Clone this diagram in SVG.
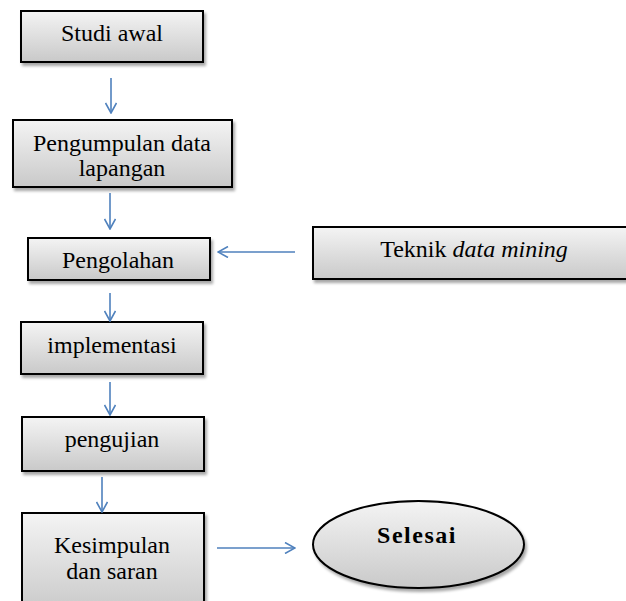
<svg xmlns="http://www.w3.org/2000/svg" width="626" height="601" viewBox="0 0 626 601">
<defs>
<linearGradient id="g" x1="0" y1="0" x2="0" y2="1">
<stop offset="0" stop-color="#f4f4f4"/>
<stop offset="1" stop-color="#c9c9c9"/>
</linearGradient>
<filter id="sh" x="-10%" y="-10%" width="130%" height="140%">
<feGaussianBlur in="SourceAlpha" stdDeviation="1.5"/>
<feOffset dx="2" dy="3" result="b"/>
<feComponentTransfer><feFuncA type="linear" slope="0.35"/></feComponentTransfer>
<feMerge><feMergeNode/><feMergeNode in="SourceGraphic"/></feMerge>
</filter>
<marker id="ah" markerWidth="12" markerHeight="12" viewBox="0 0 12 12" refX="11" refY="6" orient="auto" markerUnits="userSpaceOnUse">
<path d="M1,0.5 L11,6 L1,11.5" fill="none" stroke="#4f81bd" stroke-width="1.6"/>
</marker>
</defs>
<style>
.box{fill:url(#g);stroke:#000;stroke-width:2;filter:url(#sh)}
.t{font-family:"Liberation Serif","Times New Roman","DejaVu Serif",serif;font-size:24px;fill:#000;text-anchor:middle}
.c{stroke:#4f81bd;stroke-width:1.6;fill:none;marker-end:url(#ah)}
</style>
<g id="studi"><rect class="box" x="21" y="11" width="182" height="51"/><text class="t" x="112" y="41">Studi awal</text></g>
<g id="pengumpulan"><rect class="box" x="13" y="120" width="219" height="67"/><text class="t" x="122" y="151">Pengumpulan data</text><text class="t" x="122" y="176">lapangan</text></g>
<g id="pengolahan"><rect class="box" x="28" y="238" width="182" height="42"/><text class="t" x="118" y="268">Pengolahan</text></g>
<g id="teknik"><rect class="box" x="313" y="227" width="318" height="52"/><text class="t" x="474" y="257">Teknik <tspan font-style="italic">data mining</tspan></text></g>
<g id="implementasi"><rect class="box" x="21" y="322" width="182" height="52"/><text class="t" x="112" y="353">implementasi</text></g>
<g id="pengujian"><rect class="box" x="22" y="417" width="182" height="54"/><text class="t" x="112" y="447">pengujian</text></g>
<g id="kesimpulan"><rect class="box" x="22" y="513" width="182" height="100"/><text class="t" x="112" y="553">Kesimpulan</text><text class="t" x="112" y="579">dan saran</text></g>
<g id="selesai"><ellipse class="box" cx="418.5" cy="544.5" rx="105.5" ry="43.5"/><text class="t" x="417" y="543" font-weight="bold" font-size="22" letter-spacing="1.5">Selesai</text></g>
<g id="connectors">
<line class="c" x1="111" y1="78" x2="111" y2="113"/>
<line class="c" x1="110" y1="193" x2="110" y2="229"/>
<line class="c" x1="110" y1="293" x2="110" y2="321"/>
<line class="c" x1="110" y1="382" x2="110" y2="415"/>
<line class="c" x1="102" y1="477" x2="102" y2="512"/>
<line class="c" x1="295" y1="252" x2="218" y2="252"/>
<line class="c" x1="217" y1="548" x2="295" y2="548"/>
</g>
</svg>
